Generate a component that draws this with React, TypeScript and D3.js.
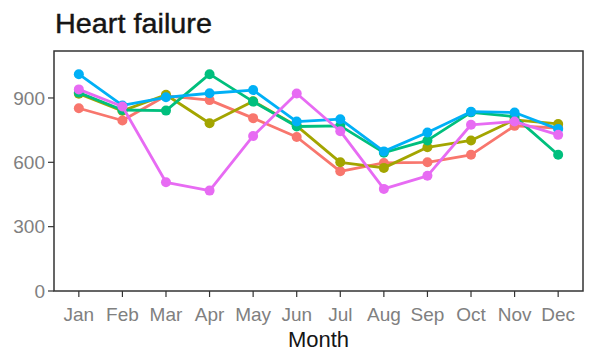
import React from "react";
import * as d3 from "d3";

const months = ["Jan","Feb","Mar","Apr","May","Jun","Jul","Aug","Sep","Oct","Nov","Dec"];
const seriesRed = [852, 795, 910, 890, 806, 718, 558, 597, 600, 635, 770, 760];
const seriesOlive = [920, 840, 915, 782, 885, 770, 600, 574, 670, 702, 798, 779];
const seriesGreen = [925, 844, 841, 1011, 883, 767, 770, 645, 702, 833, 813, 635];
const seriesBlue = [1011, 865, 903, 922, 937, 790, 801, 651, 739, 836, 832, 755];
const seriesMagenta = [940, 860, 507, 468, 723, 921, 745, 476, 537, 775, 790, 728];
const yTicks = [0, 300, 600, 900];
const seriesColors = ["#F8766D", "#A3A500", "#00BF7D", "#00B0F6", "#E76BF3"];
const titleText = "Heart failure";
const xLabel = "Month";

export default function App() {
  const W = 589, H = 351;
  const left = 54, right = 583, top = 51, bottom = 291;
  const allSeries = [seriesRed, seriesOlive, seriesGreen, seriesBlue, seriesMagenta];
  const x = d3.scalePoint<string>().domain(months).range([left, right]).padding(0.57);
  const y = d3.scaleLinear().domain([0, 1119]).range([bottom, top]);
  const line = d3.line<number>().x((_, i) => x(months[i]) as number).y(d => y(d));
  const font = "Liberation Sans, Arial, sans-serif";
  return (
    <svg width={W} height={H} style={{ position: "fixed", left: 0, top: 0, display: "block", background: "#fff" }}>
      <text x={55} y={33} fontFamily={font} fontSize={27} fill="#151515" stroke="#151515" strokeWidth={0.4} textLength={157} lengthAdjust="spacingAndGlyphs">{titleText}</text>
      <rect x={left} y={top} width={right - left} height={bottom - top} fill="#fff" stroke="#333" strokeWidth={1.5} />
      {allSeries.map((s, k) => (
        <g key={k}>
          <path d={line(s) || ""} fill="none" stroke={seriesColors[k]} strokeWidth={2.8} strokeLinejoin="round" />
          {s.map((v, i) => (
            <circle key={i} cx={x(months[i]) as number} cy={y(v)} r={5} fill={seriesColors[k]} />
          ))}
        </g>
      ))}
      {yTicks.map(t => (
        <g key={t}>
          <line x1={left - 6} x2={left} y1={y(t)} y2={y(t)} stroke="#333" strokeWidth={1.2} />
          <text x={left - 9} y={y(t)} dy="0.36em" textAnchor="end" fontFamily={font} fontSize={19} fill="#808080">{t}</text>
        </g>
      ))}
      {months.map(m => (
        <g key={m}>
          <line x1={x(m) as number} x2={x(m) as number} y1={bottom} y2={bottom + 6} stroke="#333" strokeWidth={1.2} />
          <text x={x(m) as number} y={321} textAnchor="middle" fontFamily={font} fontSize={19} fill="#808080">{m}</text>
        </g>
      ))}
      <text x={(left + right) / 2} y={347} textAnchor="middle" fontFamily={font} fontSize={22} fill="#151515">{xLabel}</text>
    </svg>
  );
}
